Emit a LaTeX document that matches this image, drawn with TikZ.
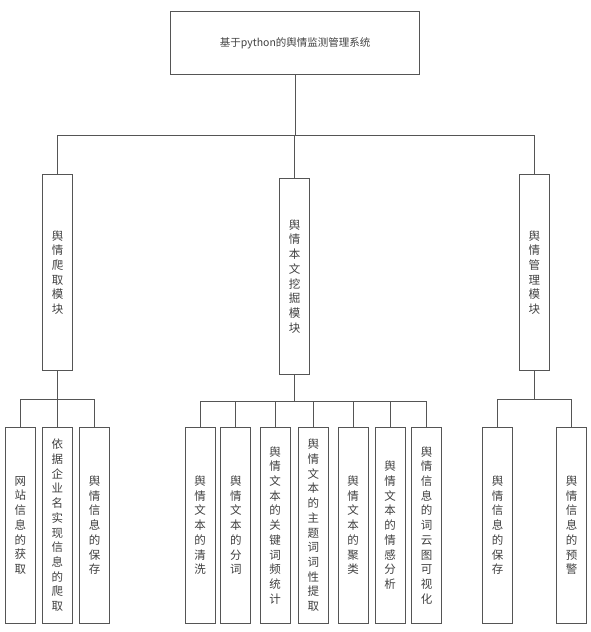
\documentclass[tikz,border=0pt]{standalone}
\usepackage{fontspec}
\usepackage{tikz}
\newfontfamily\cjk{Noto Sans CJK SC}
\definecolor{linegray}{HTML}{555555}
\definecolor{textgray}{HTML}{404040}

\begin{document}
\begin{tikzpicture}[
            x = 1pt, y = -1pt, % pixel grid, y down
            line/.style = {draw=linegray, line width=1pt}, % connector style
            box/.style = {draw=linegray, line width=1pt, text=textgray,
                          inner sep=0pt, align=center, minimum width=30pt,
                          font=\cjk\fontsize{11.5}{14.7}\selectfont},
            mod/.style = {box, minimum height=196.5pt}, % module boxes
            leaf/.style = {box, minimum height=196pt} % function boxes
        ]
\useasboundingbox (0,0) rectangle (590,632);

\node[box, minimum width=249.5pt, minimum height=62.5pt,
      font=\cjk\fontsize{10.5}{12}\selectfont] (R) at (295.2,43) {基于python的舆情监测管理系统};

\node[mod] (A) at (57.7,272.5) {舆\\情\\爬\\取\\模\\块};
\node[mod, minimum height=196pt] (B) at (294.5,276.3) {舆\\情\\本\\文\\挖\\掘\\模\\块};
\node[mod] (C) at (534.3,272.5) {舆\\情\\管\\理\\模\\块};

\node[leaf] (A1) at (20.3,525.3) {网\\站\\信\\息\\的\\获\\取};
\node[leaf] (A2) at (57.3,525.3) {依\\据\\企\\业\\名\\实\\现\\信\\息\\的\\爬\\取};
\node[leaf] (A3) at (94.5,525.3) {舆\\情\\信\\息\\的\\保\\存};

\node[leaf] (B1) at (200.1,525.3) {舆\\情\\文\\本\\的\\清\\洗};
\node[leaf] (B2) at (235.9,525.3) {舆\\情\\文\\本\\的\\分\\词};
\node[leaf] (B3) at (275,525.3) {舆\\情\\文\\本\\的\\关\\键\\词\\频\\统\\计};
\node[leaf] (B4) at (313.3,525.3) {舆\\情\\文\\本\\的\\主\\题\\词\\词\\性\\提\\取};
\node[leaf] (B5) at (353,525.3) {舆\\情\\文\\本\\的\\聚\\类};
\node[leaf] (B6) at (390,525.3) {舆\\情\\文\\本\\的\\情\\感\\分\\析};
\node[leaf] (B7) at (426.7,525.3) {舆\\情\\信\\息\\的\\词\\云\\图\\可\\视\\化};

\node[leaf] (C1) at (497.5,525.3) {舆\\情\\信\\息\\的\\保\\存};
\node[leaf] (C2) at (571.7,525.3) {舆\\情\\信\\息\\的\\预\\警};

% tree connectors
\draw[line] (R.south) -- (R.south |- 0,135.5) coordinate (Rb);
\foreach \n in {A,B,C}
  \draw[line] (Rb) -| (\n.north);

\draw[line] (A.south) -- (A.south |- 0,399.3) coordinate (Ab);
\foreach \n in {A1,A2,A3}
  \draw[line] (Ab) -| (\n.north);

\draw[line] (B.south) -- (B.south |- 0,401) coordinate (Bb);
\foreach \n in {B1,B2,B3,B4,B5,B6,B7}
  \draw[line] (Bb) -| (\n.north);

\draw[line] (C.south) -- (C.south |- 0,399.3) coordinate (Cb);
\foreach \n in {C1,C2}
  \draw[line] (Cb) -| (\n.north);

\end{tikzpicture}
\end{document}
